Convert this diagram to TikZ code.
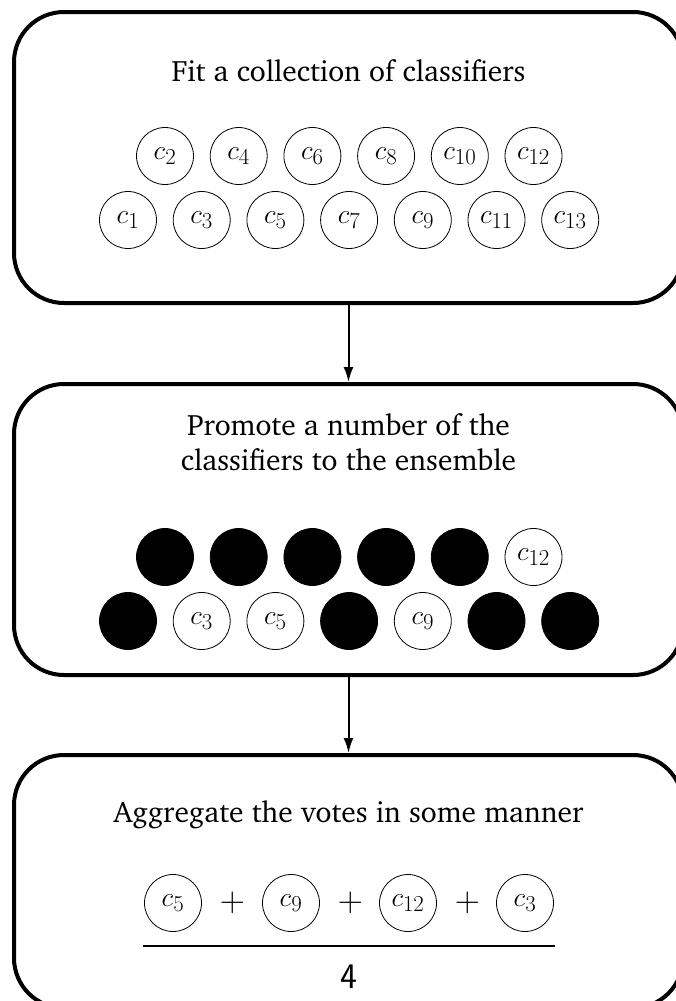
\documentclass[tikz,border=0pt]{standalone}
\usepackage[T1,TU]{fontenc}
\usepackage{graphicx}
\usetikzlibrary{arrows.meta}
\newcommand{\chartext}{\fontencoding{T1}\fontfamily{bch}\fontsize{29.5}{35}\selectfont}
\newcommand{\clflabel}[1]{\scalebox{1.1}{$c_{#1}$}}
\newcommand{\plussign}{\scalebox{1.4}{$\mathbf{+}$}}
\begin{document}
\begin{tikzpicture}[x=1pt,y=-1pt,
  stage/.style={draw,line width=4pt,rounded corners=50pt,minimum width=669pt,inner sep=0pt},
  caption/.style={font=\chartext,align=center,anchor=base,inner sep=0pt},
  clf/.style={draw,circle,line width=0.8pt,minimum size=57pt,inner sep=0pt,font=\fontsize{24.88}{30}\selectfont},
  kept/.style={clf,fill=black},
  flow/.style={line width=2pt,-{Latex[length=15pt,width=10pt]}},
  op/.style={font=\fontsize{24.88}{30}\selectfont,inner sep=0pt}]
\useasboundingbox (0,0) rectangle (675,1001);

% three stages
\node[stage,minimum height=291pt] (s1) at (348.5,157.5) {};
\node[stage,minimum height=291pt] (s2) at (348.5,529.5) {};
\node[stage,minimum height=253pt] (s3) at (348.5,881.5) {};

\draw[flow] (s1.south) -- (s2.north);
\draw[flow] (s2.south) -- (s3.north);

% stage 1: all classifiers
\node[caption] (t1) at (348.5,81) {Fit a collection of classifiers};
\foreach \i/\x in {2/165,4/238.7,6/312.4,8/386.1,10/459.8,12/533.5}
  \node[clf] (a\i) at (\x,156) {\clflabel{\i}};
\foreach \i/\x in {1/128,3/201.7,5/275.4,7/349.1,9/422.8,11/496.5,13/570.2}
  \node[clf] (a\i) at (\x,220) {\clflabel{\i}};

% stage 2: promotion
\node[caption] (t2) at (348.5,435) {Promote a number of the};
\node[caption] (t2b) at (348.5,470) {classifiers to the ensemble};
\foreach \i/\x in {2/165,4/238.7,6/312.4,8/386.1,10/459.8}
  \node[kept] (b\i) at (\x,557) {};
\node[clf] (b12) at (533.5,557) {\clflabel{12}};
\node[kept] (b1) at (128,621) {};
\node[clf] (b3) at (201.7,621) {\clflabel{3}};
\node[clf] (b5) at (275.4,621) {\clflabel{5}};
\node[kept] (b7) at (349.1,621) {};
\node[clf] (b9) at (422.8,621) {\clflabel{9}};
\node[kept] (b11) at (496.5,621) {};
\node[kept] (b13) at (570.2,621) {};

% stage 3: aggregation
\node[caption] (t3) at (348.5,822) {Aggregate the votes in some manner};
\node[clf] (v5) at (173,903) {\clflabel{5}};
\node[op] (p1) at (232.5,903) {\plussign};
\node[clf] (v9) at (291,903) {\clflabel{9}};
\node[op] (p2) at (350.5,903) {\plussign};
\node[clf] (v12) at (408,903) {\clflabel{12}};
\node[op] (p3) at (467.5,903) {\plussign};
\node[clf] (v3) at (525,903) {\clflabel{3}};
\coordinate (fl) at (143,946);
\coordinate (fr) at (555,946);
\draw[line width=1.2pt] (fl) -- (fr);
\node[op,font=\fontsize{36}{40}\selectfont\sffamily] (den) at (349,977) {4};
\end{tikzpicture}
\end{document}
